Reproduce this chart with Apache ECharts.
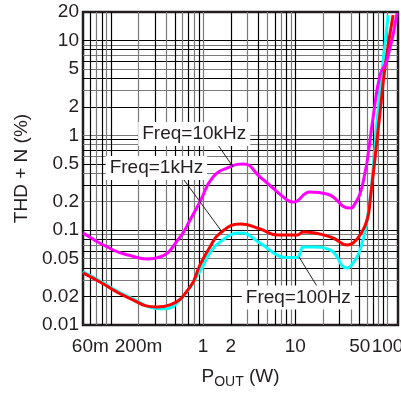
<!DOCTYPE html>
<html><head><meta charset="utf-8">
<script src="https://cdn.jsdelivr.net/npm/echarts@6/dist/echarts.min.js"></script>
<style>html,body{margin:0;padding:0;background:#fff;overflow:hidden}#c{width:401px;height:394px}</style>
</head><body><div id="c"></div>
<script>
// tick labels
const xTickValues = [0.06, 0.2, 1, 2, 10, 50, 100];
const xTickLabels = ['60m', '200m', '1', '2', '10', '50', '100'];
const yTickValues = [0.01, 0.02, 0.05, 0.1, 0.2, 0.5, 1, 2, 5, 10, 20];
const yTickLabels = ['0.01', '0.02', '0.05', '0.1', '0.2', '0.5', '1', '2', '5', '10', '20'];
// grid line values
const xGridValues = [0.06, 0.07, 0.08, 0.09, 0.1, 0.2, 0.3, 0.4, 0.5, 0.6, 0.7, 0.8, 0.9,
  1, 2, 3, 4, 5, 6, 7, 8, 9, 10, 20, 30, 40, 50, 60, 70, 80, 90, 100];
const yGridValues = [0.02, 0.03, 0.04, 0.05, 0.06, 0.07, 0.08, 0.09, 0.1, 0.2, 0.3, 0.4, 0.5,
  0.6, 0.7, 0.8, 0.9, 1, 2, 3, 4, 5, 6, 7, 8, 9, 10];
// series: [P_OUT (W), THD+N (%)]
const p100Hz = [[0.05,0.0367],[0.0764,0.0291],[0.15,0.0202],[0.369,0.0148],[0.564,0.0184],[0.929,0.0371],
  [1.19,0.0575],[1.53,0.0751],[2.52,0.0934],[4.16,0.073],[6.35,0.0547],[7.76,0.0515],[10.5,0.0515],
  [11.3,0.0575],[12.2,0.0665],[15.6,0.0665],[23.9,0.0618],[36.5,0.0399],[42.4,0.0451],[50.5,0.0618],
  [60.1,0.128],[68.1,0.339],[77.2,1.45],[101.6,18.6]];
const p1kHz = [[0.05,0.0354],[0.0764,0.0284],[0.15,0.0197],[0.317,0.0155],[0.439,0.0163],[0.724,0.0252],
  [0.929,0.043],[1.19,0.0665],[1.53,0.093],[2.52,0.116],[4.16,0.103],[6.35,0.0889],[10.5,0.0889],
  [12.2,0.0957],[16.4,0.0934],[25.7,0.0827],[36.5,0.0698],[42.4,0.0733],[50.5,0.0889],[60.1,0.128],
  [64.9,0.208],[83.2,1.77],[94.2,5.27],[115,18.6]];
const p10kHz = [[0.05,0.0934],[0.106,0.0618],[0.162,0.054],[0.247,0.0497],[0.342,0.0521],[0.564,0.0848],
  [0.724,0.128],[0.929,0.2],[1.285,0.364],[1.96,0.465],[2.72,0.5],[4.16,0.364],[8.16,0.208],[9.48,0.198],
  [14.5,0.253],[22.1,0.241],[39.3,0.171],[42.4,0.176],[54.5,0.322],[69.9,1.56],[83.2,4.34],[99.1,6.24],[127,19.5]];
// annotation anchors (data coordinates)
const labels = [
  {text: 'Freq=10kHz', at: [0.196, 1.035], from: [1.41, 0.826], to: [2.12, 0.464]},
  {text: 'Freq=1kHz', at: [0.087, 0.453], from: [0.578, 0.373], to: [1.61, 0.0957]},
  {text: 'Freq=100Hz', at: [2.6, 0.0195], from: [11.0, 0.0521], to: [17.7, 0.0245]}
];

const FONT = "'Liberation Sans', Arial, Helvetica, sans-serif";
const INK = '#231f20';

function fmt(values, names) {
  return v => {
    for (let i = 0; i < values.length; i++) {
      if (Math.abs(Math.log10(v) - Math.log10(values[i])) < 1e-6) return names[i];
    }
    return '';
  };
}

function mkSeries(name, data, color, lab) {
  return {
    name, type: 'line', data, showSymbol: false, smooth: 0.5,
    lineStyle: {color, width: 3}, itemStyle: {color}, silent: true,
    markLine: {
      silent: true, symbol: 'none', animation: false,
      lineStyle: {color: INK, width: 1, type: 'solid'},
      label: {show: false},
      data: [[{coord: lab.from}, {coord: lab.to}]]
    },
    markPoint: {
      silent: true, animation: false,
      symbol: 'rect', symbolSize: 1, itemStyle: {color: 'rgba(0,0,0,0)'},
      label: {show: true, position: 'right', distance: 0, formatter: lab.text,
        fontFamily: FONT, fontSize: 19, color: INK, backgroundColor: '#fff', padding: [3, 4, 2, 4]},
      data: [{coord: lab.at}]
    }
  };
}

const chart = echarts.init(document.getElementById('c'), null, {renderer: 'canvas'});
chart.setOption({
  animation: false,
  backgroundColor: '#fff',
  grid: {left: 83, right: 3, top: 12, bottom: 69, containLabel: false, outerBoundsMode: 'none',
    show: true, borderColor: INK, borderWidth: 2.5, backgroundColor: 'transparent'},
  xAxis: {
    type: 'log', logBase: 10, min: 0.05, max: 130,
    name: '{p|P}{s|OUT}{p| (W)}', nameLocation: 'middle', nameGap: 40,
    nameTextStyle: {fontFamily: FONT, color: INK,
      rich: {p: {fontSize: 19, fontFamily: FONT, color: INK},
             s: {fontSize: 14, fontFamily: FONT, color: INK, padding: [10, 0, 0, 0]}}},
    axisLine: {show: false},
    axisTick: {show: false, customValues: xGridValues},
    axisLabel: {customValues: xTickValues, formatter: fmt(xTickValues, xTickLabels),
      fontFamily: FONT, fontSize: 19, color: INK, margin: 12, hideOverlap: false},
    splitLine: {show: true, lineStyle: {color: ['#000', '#7a7a7a'], width: 1.2}},
    minorSplitLine: {show: false}
  },
  yAxis: {
    type: 'log', logBase: 10, min: 0.01, max: 20,
    name: 'THD + N (%)', nameLocation: 'middle', nameGap: 52, nameRotate: 90,
    nameTextStyle: {fontFamily: FONT, fontSize: 19, color: INK},
    axisLine: {show: false},
    axisTick: {show: false, customValues: yGridValues},
    axisLabel: {customValues: yTickValues, formatter: fmt(yTickValues, yTickLabels),
      fontFamily: FONT, fontSize: 19, color: INK, margin: 4, hideOverlap: false},
    splitLine: {show: true, lineStyle: {color: ['#000', '#7a7a7a'], width: 1.2}},
    minorSplitLine: {show: false}
  },
  series: [
    mkSeries('Freq=100Hz', p100Hz, '#00ffff', labels[2]),
    mkSeries('Freq=1kHz', p1kHz, '#ff0000', labels[1]),
    mkSeries('Freq=10kHz', p10kHz, '#ff00ff', labels[0])
  ]
});
</script></body></html>
